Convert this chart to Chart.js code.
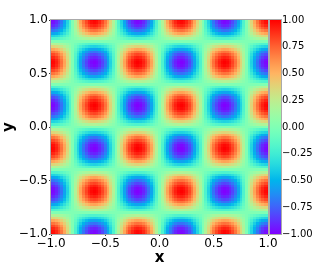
<!DOCTYPE html>
<html>
<head>
<meta charset="utf-8">
<script src="https://cdn.jsdelivr.net/npm/chart.js@4.4.0/dist/chart.umd.min.js"></script>
<style>
  html, body { margin: 0; padding: 0; background: #fff; }
  #wrap { width: 316px; height: 267px; }
</style>
</head>
<body>
<div id="wrap"><canvas id="heat" width="316" height="267"></canvas></div>
<script>
// cell centres along each axis (step 0.025)
const cellStep = 0.025;
const cellX = [];
const cellY = [];
for (let i = 0; i <= 80; i++) {
    cellX.push(-1 + i * cellStep);
    cellY.push(-1 + i * cellStep);
}

// value profile read along a row through the blobs (x = -1 .. 1)
const rowProfile = [
    -1, -0.98, -0.92, -0.83, -0.71, -0.56, -0.38, -0.2,
    0, 0.2, 0.38, 0.56, 0.71, 0.83, 0.92, 0.98,
    1, 0.98, 0.92, 0.83, 0.71, 0.56, 0.38, 0.2,
    0, -0.2, -0.38, -0.56, -0.71, -0.83, -0.92, -0.98,
    -1, -0.98, -0.92, -0.83, -0.71, -0.56, -0.38, -0.2,
    0, 0.2, 0.38, 0.56, 0.71, 0.83, 0.92, 0.98,
    1, 0.98, 0.92, 0.83, 0.71, 0.56, 0.38, 0.2,
    0, -0.2, -0.38, -0.56, -0.71, -0.83, -0.92, -0.98,
    -1, -0.98, -0.92, -0.83, -0.71, -0.56, -0.38, -0.2,
    0, 0.2, 0.38, 0.56, 0.71, 0.83, 0.92, 0.98,
    1];
// value profile read down a column through the blobs (y = -1 .. 1)
const colProfile = [
    -1, -0.98, -0.92, -0.83, -0.71, -0.56, -0.38, -0.2,
    0, 0.2, 0.38, 0.56, 0.71, 0.83, 0.92, 0.98,
    1, 0.98, 0.92, 0.83, 0.71, 0.56, 0.38, 0.2,
    0, -0.2, -0.38, -0.56, -0.71, -0.83, -0.92, -0.98,
    -1, -0.98, -0.92, -0.83, -0.71, -0.56, -0.38, -0.2,
    0, 0.2, 0.38, 0.56, 0.71, 0.83, 0.92, 0.98,
    1, 0.98, 0.92, 0.83, 0.71, 0.56, 0.38, 0.2,
    0, -0.2, -0.38, -0.56, -0.71, -0.83, -0.92, -0.98,
    -1, -0.98, -0.92, -0.83, -0.71, -0.56, -0.38, -0.2,
    0, 0.2, 0.38, 0.56, 0.71, 0.83, 0.92, 0.98,
    1];

const axisTicks = [-1, -0.5, 0, 0.5, 1];
const barTicks = [-1, -0.75, -0.5, -0.25, 0, 0.25, 0.5, 0.75, 1];
const vMin = -1, vMax = 1;

function rainbow(v) {
    const t = Math.min(1, Math.max(0, (v - vMin) / (vMax - vMin)));
    const c = x => Math.round(255 * Math.min(1, Math.max(0, x)));
    return `rgb(${c(Math.abs(2 * t - 0.5))},${c(Math.sin(Math.PI * t))},${c(Math.cos(Math.PI * t / 2))})`;
}

const minus = s => s.replace('-', '\u2212');
const font = { family: 'DejaVu Sans', size: 12 };

const heatPlugin = {
    id: 'heat',
    beforeDatasetsDraw(chart) {
        const { ctx, chartArea: a, scales } = chart;
        const xs = scales.x, ys = scales.y, cb = scales.cb;
        const half = cellStep / 2;
        ctx.save();
        ctx.beginPath();
        ctx.rect(a.left, a.top, a.right - a.left, a.bottom - a.top);
        ctx.clip();
        for (let j = 0; j < cellY.length; j++) {
            const y0 = Math.round(ys.getPixelForValue(cellY[j] + half));
            const y1 = Math.round(ys.getPixelForValue(cellY[j] - half));
            for (let i = 0; i < cellX.length; i++) {
                const x0 = Math.round(xs.getPixelForValue(cellX[i] - half));
                const x1 = Math.round(xs.getPixelForValue(cellX[i] + half));
                ctx.fillStyle = rainbow(rowProfile[i] * colProfile[j]);
                ctx.fillRect(x0, y0, x1 - x0, y1 - y0);
            }
        }
        ctx.restore();

        // colour bar
        const bx = a.right + 2, bw = 11;
        const top = cb.getPixelForValue(vMax), bot = cb.getPixelForValue(vMin);
        const g = ctx.createLinearGradient(0, bot, 0, top);
        for (let k = 0; k <= 64; k++) {
            g.addColorStop(k / 64, rainbow(vMin + (vMax - vMin) * k / 64));
        }
        ctx.save();
        ctx.fillStyle = g;
        ctx.fillRect(bx, top, bw, bot - top);
        ctx.strokeStyle = '#aaa';
        ctx.lineWidth = 1;
        ctx.strokeRect(bx - 0.5, top - 0.5, bw + 1, bot - top + 1);
        ctx.restore();
    },
    afterDatasetsDraw(chart) {
        const { ctx, chartArea: a } = chart;
        ctx.save();
        ctx.strokeStyle = '#aaa';
        ctx.lineWidth = 1;
        ctx.strokeRect(a.left - 0.5, a.top - 0.5, a.right - a.left + 1, a.bottom - a.top + 1);
        ctx.restore();
    }
};

new Chart(document.getElementById('heat'), {
    type: 'scatter',
    data: { datasets: [{ data: [], pointRadius: 0 }] },
    options: {
        responsive: false,
        animation: false,
        events: [],
        layout: { padding: { top: 6, left: 0, right: 0, bottom: 0 } },
        plugins: { legend: { display: false }, tooltip: { enabled: false } },
        scales: {
            x: {
                type: 'linear', min: -1, max: 1,
                afterBuildTicks: s => { s.ticks = axisTicks.map(v => ({ value: v })); },
                afterFit: s => { s.height = 33; },
                ticks: { font, color: '#000', padding: 1, maxRotation: 0, autoSkip: false,
                    callback: v => minus(v.toFixed(1)) },
                grid: { drawOnChartArea: false, tickLength: 2, color: '#333' },
                border: { display: false },
                title: { display: true, text: 'x', color: '#000', padding: 0,
                    font: { family: 'DejaVu Sans', size: 15, weight: 'bold' } }
            },
            y: {
                type: 'linear', min: -1, max: 1,
                afterBuildTicks: s => { s.ticks = axisTicks.map(v => ({ value: v })); },
                afterFit: s => { s.width = 51; },
                ticks: { font, color: '#000', padding: 1, autoSkip: false,
                    callback: v => minus(v.toFixed(1)) },
                grid: { drawOnChartArea: false, tickLength: 2, color: '#333' },
                border: { display: false },
                title: { display: true, text: 'y', color: '#000', padding: 0,
                    font: { family: 'DejaVu Sans', size: 15, weight: 'bold' } }
            },
            cb: {
                type: 'linear', position: 'right', min: vMin, max: vMax,
                afterBuildTicks: s => { s.ticks = barTicks.map(v => ({ value: v })); },
                afterFit: s => { s.width = 48; },
                ticks: { font: { family: 'DejaVu Sans', size: 10 }, color: '#000', padding: 14,
                    autoSkip: false, callback: v => minus(v.toFixed(2)) },
                grid: { display: false, drawTicks: false },
                border: { display: false }
            }
        }
    },
    plugins: [heatPlugin]
});
</script>
</body>
</html>
